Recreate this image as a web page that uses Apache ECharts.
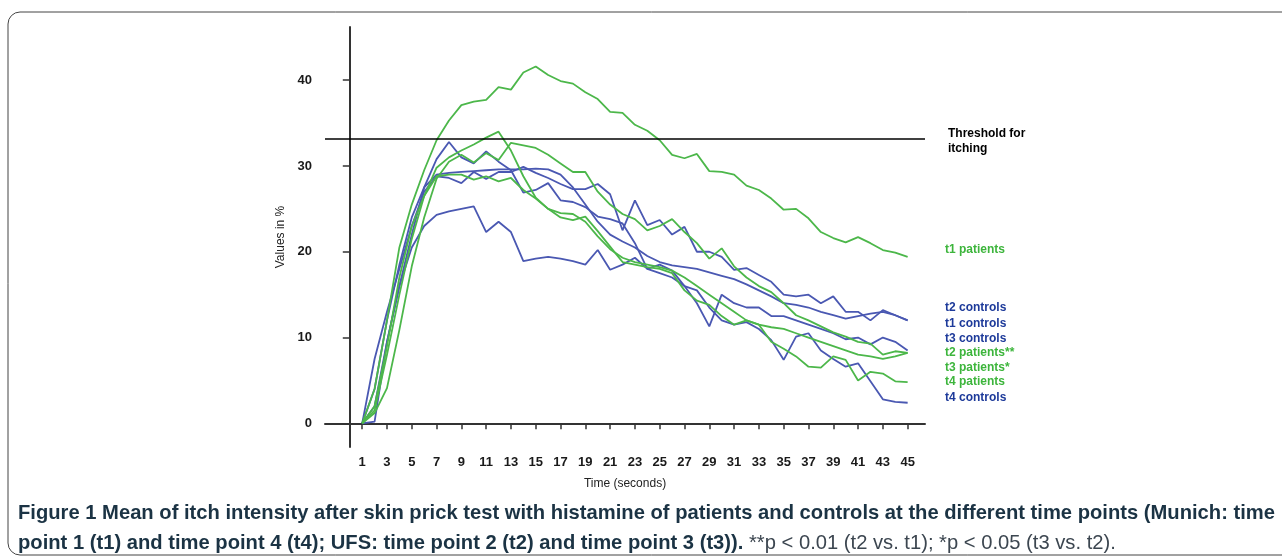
<!DOCTYPE html>
<html>
<head>
<meta charset="utf-8">
<title>Figure 1</title>
<script src="https://cdn.jsdelivr.net/npm/echarts@6/dist/echarts.min.js"></script>
<style>
  html, body { margin: 0; padding: 0; background: #fff; }
  #main { width: 1282px; height: 558px; }
</style>
</head>
<body>
<div id="main"></div>
<script>
// time in seconds
var seconds = [1,2,3,4,5,6,7,8,9,10,11,12,13,14,15,16,17,18,19,20,21,22,23,24,25,26,27,28,29,30,31,32,33,34,35,36,37,38,39,40,41,42,43,44,45];
var tickSeconds = [1,3,5,7,9,11,13,15,17,19,21,23,25,27,29,31,33,35,37,39,41,43,45];
var tickValues = [0,10,20,30,40];
var threshold = 33.2;

var t1Patients = [0,4,12,20.5,25.5,29.5,33,35.3,37.1,37.5,37.7,39.2,38.9,40.9,41.6,40.6,39.9,39.6,38.6,37.8,36.3,36.2,34.8,34.1,33.0,31.3,30.9,31.4,29.4,29.3,29.0,27.7,27.2,26.2,24.9,25.0,23.9,22.3,21.6,21.1,21.7,21.0,20.2,19.9,19.4];
var t2Patients = [0,1.5,8,15,21.5,26.5,29.8,31.0,31.8,32.5,33.3,34.0,31.8,28.8,26.3,25.0,24.5,24.4,23.5,21.8,20.3,19.3,18.8,18.5,18.2,17.8,17.0,16.0,15.0,14.0,13.0,12.0,11.5,11.2,11.0,10.5,10.0,9.5,9.0,8.5,8.0,7.8,7.5,7.8,8.2];
var t3Patients = [0,1.2,4.1,10.9,18.3,24,28.5,30.5,31.3,30.4,31.5,30.7,32.7,32.4,32.1,31.3,30.3,29.3,29.3,27.0,25.5,24.4,23.8,22.5,23.0,23.8,22.3,21.0,19.2,20.4,18.3,17.0,16.0,15.3,14.0,12.6,12.0,11.3,10.6,10.1,9.5,9.3,8.0,8.4,8.2];
var t4Patients = [0,2,9,17,23,26.5,28.8,29.0,29.0,28.4,28.8,28.2,28.6,27.2,26.2,25.0,24.0,23.7,24.1,22.4,20.6,18.8,18.5,18.2,18.0,17.5,15.5,14.3,13.8,12.5,11.5,12.0,11.5,9.5,8.7,7.8,6.6,6.5,7.8,7.4,5.0,6.0,5.8,4.9,4.8];
var t1Controls = [0,4,12,18.5,24,27.5,29.0,29.2,29.3,29.4,29.5,29.6,29.6,29.6,29.7,29.6,29.0,27.5,25.5,23.5,22.0,21.2,20.5,19.5,18.8,18.4,18.2,18.0,17.6,17.2,16.8,16.2,15.5,14.8,14.0,13.8,13.5,13.0,12.6,12.2,12.5,12.8,13.0,12.6,12.0];
var t2Controls = [0,7.5,13,18,23,27,28.8,28.6,28.0,29.3,28.5,29.3,29.3,29.9,29.2,28.6,27.9,27.3,27.3,27.9,26.7,22.5,26.0,23.1,23.7,22.0,22.9,20.0,20.0,19.4,17.9,18.1,17.3,16.5,15.0,14.8,15.0,14.0,14.8,13.0,13.0,12.0,13.2,12.6,12.0];
var t3Controls = [0,2,9.5,16,22,27.5,30.8,32.8,31.0,30.3,31.7,30.5,29.5,26.9,27.2,28.0,26.0,25.8,25.2,24.1,23.8,23.3,21.0,18.0,18.5,17.8,16.0,14.0,11.3,15.0,14.0,13.5,13.5,12.5,12.5,12.0,11.5,11.0,10.5,9.8,10.0,9.2,10.0,9.5,8.5];
var t4Controls = [0,0.2,9.5,16,20.5,23.0,24.3,24.7,25.0,25.3,22.3,23.5,22.3,18.9,19.2,19.4,19.2,18.9,18.5,20.2,17.9,18.5,19.3,18.0,17.5,17.0,16.0,15.5,13.5,12.0,11.5,11.8,11.0,9.7,7.4,10.1,10.5,8.5,7.5,6.6,7.0,4.9,2.8,2.5,2.4];

var seriesNames = ['t1 patients','t2 controls','t1 controls','t3 controls','t2 patients**','t3 patients*','t4 patients','t4 controls'];
var seriesData = [t1Patients,t2Controls,t1Controls,t3Controls,t2Patients,t3Patients,t4Patients,t4Controls];
var isPatient = [true,false,false,false,true,true,true,false];

var captionBold1 = 'Figure 1 Mean of itch intensity after skin prick test with histamine of patients and controls at the different time points (Munich: time';
var captionBold2 = 'point 1 (t1) and time point 4 (t4); UFS: time point 2 (t2) and time point 3 (t3)).';
var captionNote = ' **p < 0.01 (t2 vs. t1); *p < 0.05 (t3 vs. t2).';

var lineGreen = '#4cb74a';
var lineBlue = '#4a58b2';
var textGreen = '#3db53c';
var textBlue = '#1d3a9a';
var capFontB = 'bold 21px "Liberation Sans", Arial, sans-serif';
var capFontN = '21px "Liberation Sans", Arial, sans-serif';

function pairs(vals) {
    var out = [];
    for (var i = 0; i < seconds.length; i++) out.push([seconds[i], vals[i]]);
    return out;
}

// squeeze the caption so the first line fits the frame like the figure's condensed type
var ctx = document.createElement('canvas').getContext('2d');
ctx.font = capFontB;
var capScale = 1257 / ctx.measureText(captionBold1).width;

var series = [];
// draw controls first, patients on top
var order = [1,2,3,7,6,5,4,0];
order.forEach(function (k) {
    series.push({
        name: seriesNames[k],
        type: 'line',
        data: pairs(seriesData[k]),
        symbol: 'none',
        silent: true,
        lineStyle: { width: 1.8, color: isPatient[k] ? lineGreen : lineBlue },
        z: isPatient[k] ? 3 : 2
    });
});
series[0].markLine = {
    silent: true,
    symbol: 'none',
    label: { show: false },
    lineStyle: { color: '#000', width: 1.5, type: 'solid' },
    data: [{ yAxis: threshold }]
};

// right side legend texts
var legendY = { 't1 patients': 250, 't2 controls': 308, 't1 controls': 324, 't3 controls': 339,
                't2 patients**': 353, 't3 patients*': 368, 't4 patients': 382, 't4 controls': 398 };
var graphics = [];
seriesNames.forEach(function (n, k) {
    graphics.push({
        type: 'text', x: 945, y: legendY[n], silent: true,
        style: { text: n, fill: isPatient[k] ? textGreen : textBlue, verticalAlign: 'middle',
                 font: 'bold 12px "Liberation Sans", Arial, sans-serif' }
    });
});
graphics.push({
    type: 'text', x: 948, y: 126, silent: true,
    style: { text: 'Threshold for\nitching', fill: '#000', lineHeight: 15,
             font: 'bold 12px "Liberation Sans", Arial, sans-serif' }
});
// frame
graphics.push({
    type: 'rect', x: 8, y: 12, silent: true,
    shape: { width: 1290, height: 543, r: 12 },
    style: { fill: 'none', stroke: '#444', lineWidth: 1 }
});
// caption
graphics.push({
    type: 'text', x: 18, y: 498, scaleX: capScale, silent: true,
    style: {
        text: '{b|' + captionBold1 + '}\n{b|' + captionBold2 + '}{n|' + captionNote + '}',
        rich: {
            b: { font: capFontB, fill: '#1b3344', lineHeight: 30 },
            n: { font: capFontN, fill: '#3c4650', lineHeight: 30 }
        }
    }
});

var chart = echarts.init(document.getElementById('main'), null, { renderer: 'canvas' });
chart.setOption({
    backgroundColor: '#fff',
    animation: false,
    grid: { left: 325, right: 357, top: 27, bottom: 111, containLabel: false },
    xAxis: {
        type: 'value', min: -2, max: 46.4,
        name: 'Time (seconds)', nameLocation: 'middle', nameGap: 31,
        nameTextStyle: { fontSize: 12, color: '#222', fontFamily: 'Liberation Sans' },
        axisLine: { show: true, lineStyle: { color: '#333', width: 2 } },
        axisTick: { show: true, length: 6, lineStyle: { color: '#333', width: 1.5 }, customValues: tickSeconds },
        axisLabel: { customValues: tickSeconds, color: '#1a1a1a', fontSize: 13, fontWeight: 'bold', margin: 9, fontFamily: 'Liberation Sans' },
        splitLine: { show: false }
    },
    yAxis: {
        type: 'value', min: -2.76, max: 46.2,
        name: 'Values in %', nameLocation: 'middle', nameGap: 38, nameRotate: 90,
        nameTextStyle: { fontSize: 12, color: '#222', fontFamily: 'Liberation Sans' },
        axisLine: { show: true, lineStyle: { color: '#333', width: 2 } },
        axisTick: { show: true, length: 7, lineStyle: { color: '#333', width: 1.5 }, customValues: tickValues },
        axisLabel: { customValues: tickValues, color: '#1a1a1a', fontSize: 13, fontWeight: 'bold', margin: 13, fontFamily: 'Liberation Sans' },
        splitLine: { show: false }
    },
    graphic: graphics,
    series: series
});
</script>
</body>
</html>
